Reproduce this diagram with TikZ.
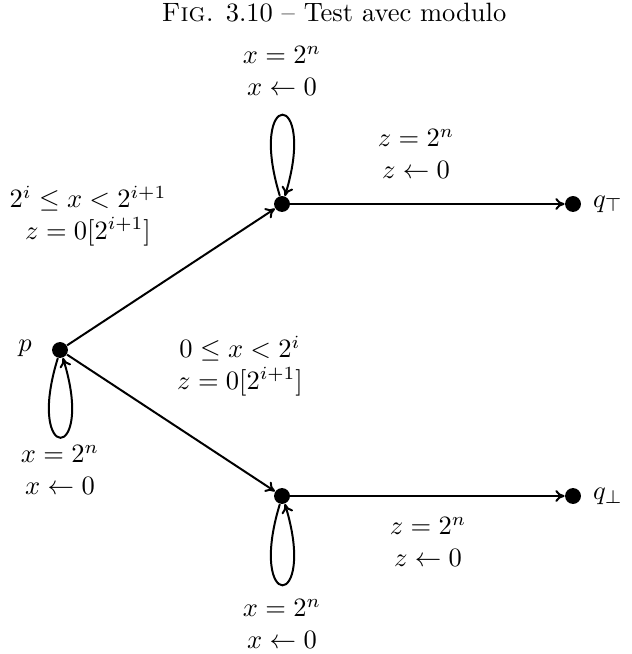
\documentclass[tikz,border=0pt]{standalone}
\usepackage{amsmath,amssymb}
\usetikzlibrary{arrows.meta}
\begin{document}
\begin{tikzpicture}[x=0.3774pt,y=-0.3774pt,
  state/.style={circle,fill=black,inner sep=0pt,minimum size=6pt},
  edgeline/.style={line width=0.75pt,-{To[length=3.5pt,width=4.5pt]}},
  lbl/.style={align=center,inner sep=0pt}]
\useasboundingbox (0,0) rectangle (631,654);
\node[inner sep=0pt] (title) at (334,13) {\textsc{Fig.} 3.10 -- Test avec modulo};
\node[state] (p) at (60,350) {};
\node[state] (m1) at (282,204) {};
\node[state] (m2) at (282,496) {};
\node[state] (qt) at (573,204) {};
\node[state] (qb) at (573,496) {};
\node[inner sep=0pt] (lp) at (25,348) {$p$};
\node[inner sep=0pt] (lqt) at (608,204) {$q_\top$};
\node[inner sep=0pt] (lqb) at (608,496) {$q_\bot$};
\draw[edgeline] (p) -- (m1);
\draw[edgeline] (p) -- (m2);
\draw[edgeline] (m1) -- (qt);
\draw[edgeline] (m2) -- (qb);
\draw[edgeline] (m1.105) .. controls +(-33,-108) and +(33,-108) .. (m1.70);
\draw[edgeline] (p.255) .. controls +(-33,106) and +(33,106) .. (p.290);
\draw[edgeline] (m2.255) .. controls +(-33,108) and +(33,108) .. (m2.290);
\node[lbl] (l1) at (282,71) {$x=2^n$\\$x\leftarrow 0$};
\node[lbl] (l2) at (416,154) {$z=2^n$\\$z\leftarrow 0$};
\node[lbl] (l3) at (88,216) {$2^i\le x<2^{i+1}$\\$z=0[2^{i+1}]$};
\node[lbl] (l4) at (240,366) {$0\le x<2^i$\\$z=0[2^{i+1}]$};
\node[lbl] (l5) at (60,470) {$x=2^n$\\$x\leftarrow 0$};
\node[lbl] (l6) at (428,542) {$z=2^n$\\$z\leftarrow 0$};
\node[lbl] (l7) at (282,624) {$x=2^n$\\$x\leftarrow 0$};
\end{tikzpicture}
\end{document}
